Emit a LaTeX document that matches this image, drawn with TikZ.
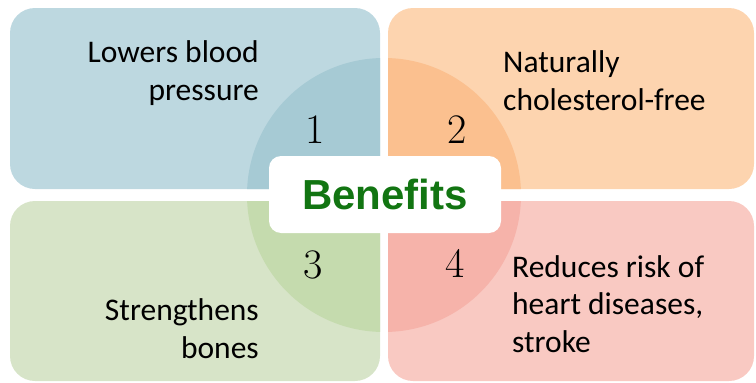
\documentclass[tikz,border=0pt]{standalone}
\usepackage{fontspec}
\newfontfamily\labelfont{Carlito}
\newfontfamily\titlefont{Liberation Sans}
\definecolor{boxblue}{HTML}{BDD8E0}
\definecolor{ringblue}{HTML}{A6CAD4}
\definecolor{boxorange}{HTML}{FDD4AF}
\definecolor{ringorange}{HTML}{FBC08F}
\definecolor{boxgreen}{HTML}{D7E4C8}
\definecolor{ringgreen}{HTML}{C5DBAE}
\definecolor{boxpink}{HTML}{F9C9C2}
\definecolor{ringpink}{HTML}{F6B3AA}
\definecolor{titlegreen}{HTML}{127512}
\tikzset{
  label/.style={inner sep=0pt, font=\labelfont\fontsize{31.5}{37.5}\selectfont},
  number/.style={inner sep=0pt, font=\fontsize{42}{42}\selectfont},
}
\begin{document}
\begin{tikzpicture}[x=1pt,y=-1pt]
  \useasboundingbox (0,0) rectangle (756,383);
  % Four rounded quadrants
  \fill[boxblue, rounded corners=25pt] (10,8) rectangle (380,189);
  \fill[boxorange, rounded corners=25pt] (388,8) rectangle (754,189);
  \fill[boxgreen, rounded corners=25pt] (10,201) rectangle (380,381);
  \fill[boxpink, rounded corners=25pt] (388,201) rectangle (754,381);
  % Circle pieces inside each quadrant
  \begin{scope}
    \clip[rounded corners=25pt] (10,8) rectangle (380,189);
    \fill[ringblue] (384,195) circle (137pt);
  \end{scope}
  \begin{scope}
    \clip[rounded corners=25pt] (388,8) rectangle (754,189);
    \fill[ringorange] (384,195) circle (137pt);
  \end{scope}
  \begin{scope}
    \clip[rounded corners=25pt] (10,201) rectangle (380,381);
    \fill[ringgreen] (384,195) circle (137pt);
  \end{scope}
  \begin{scope}
    \clip[rounded corners=25pt] (388,201) rectangle (754,381);
    \fill[ringpink] (384,195) circle (137pt);
  \end{scope}
  % Centre title
  \node[fill=white, rounded corners=12pt, minimum width=232pt, minimum height=77pt,
    text=titlegreen, font=\titlefont\bfseries\fontsize{42}{42}\selectfont]
    (benefits) at (385,194.5) {Benefits};
  % Numbers
  \node[number, anchor=base] (num1) at (315,143) {1};
  \node[number, anchor=base] (num2) at (457,143) {2};
  \node[number, anchor=base] (num3) at (313,278) {3};
  \node[number, anchor=base] (num4) at (455,277) {4};
  % Texts (base = last line)
  \node[label, align=right, anchor=base east] (txt1) at (259,100) {Lowers blood\\pressure};
  \node[label, align=left, anchor=base west] (txt2) at (503,110) {Naturally\\cholesterol-free};
  \node[label, align=right, anchor=base east] (txt3) at (259,358) {Strengthens\\bones};
  \node[label, align=left, anchor=base west] (txt4) at (512,352) {Reduces risk of\\heart diseases,\\stroke};
\end{tikzpicture}
\end{document}
